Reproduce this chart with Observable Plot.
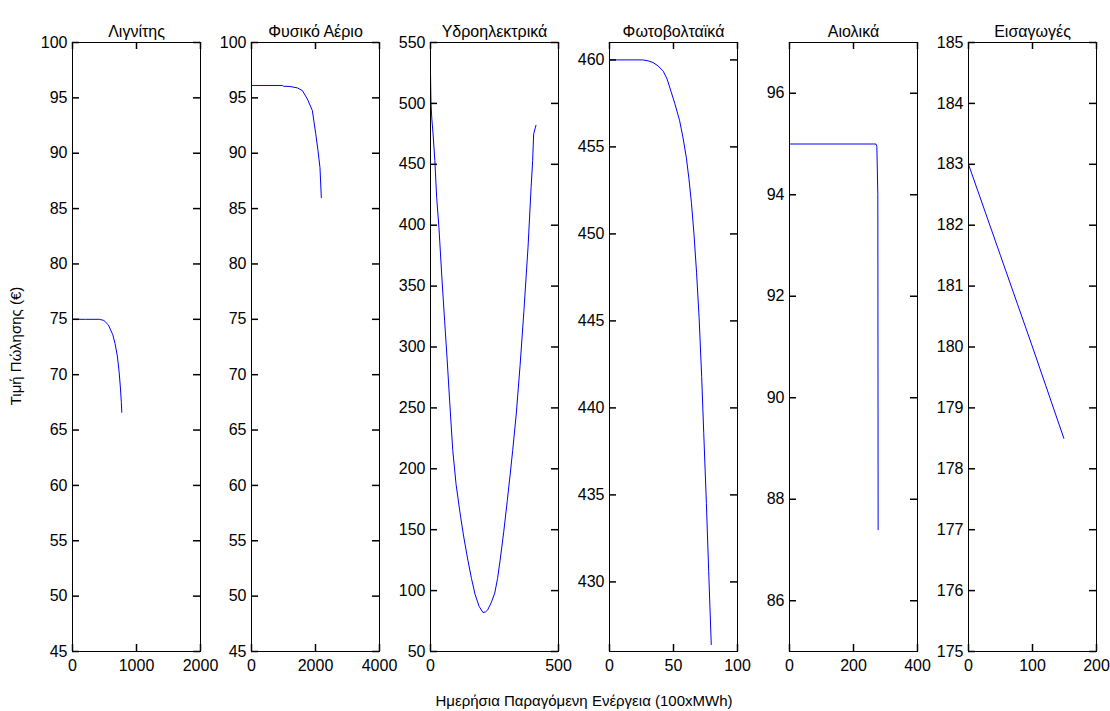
<!DOCTYPE html>
<html><head><meta charset="utf-8">
<script src="https://cdn.jsdelivr.net/npm/d3@7"></script>
<script src="https://cdn.jsdelivr.net/npm/@observablehq/plot@0.6"></script>
<style>
body{margin:0;background:#fff;}
#fig{position:relative;width:1110px;height:711px;font-family:"Liberation Sans",Arial,sans-serif;color:#000;background:#fff;overflow:hidden;}
.panel{position:absolute;top:0;}
#ylab{position:absolute;left:15px;top:346px;transform:translate(-50%,-50%) rotate(-90deg);white-space:nowrap;font-size:15px;}
#xlab{position:absolute;left:584px;top:700px;transform:translate(-50%,-50%);white-space:nowrap;font-size:15px;}
</style></head>
<body><div id="fig"><div id="ylab">Τιμή Πώλησης (€)</div><div id="xlab">Ημερήσια Παραγόμενη Ενέργεια (100xMWh)</div></div>
<script>
const titles = ["Λιγνίτης", "Φυσικό Αέριο", "Υδροηλεκτρικά", "Φωτοβολταϊκά", "Αιολικά", "Εισαγωγές"];

const lignX = [0, 200, 420, 490, 560, 630, 665, 700, 728, 749, 763, 770];
const lignY = [75, 75, 75, 74.9, 74.5, 73.6, 72.8, 71.7, 70.3, 68.8, 67.5, 66.6];

const gasX = [0, 966, 1000, 1200, 1434, 1590, 1745, 1901, 2005, 2078, 2140, 2182];
const gasY = [96.12, 96.12, 96.05, 96.03, 95.9, 95.66, 94.9, 93.86, 91.8, 90.24, 88.7, 86.0];

const hydroX = [0, 2, 5, 10, 17, 24, 33, 45, 55, 65, 75, 87, 100, 118, 130, 146, 160, 174, 190, 205, 215, 223, 237, 251, 262, 272, 286, 300, 311, 321, 335, 350, 365, 381, 393, 399, 403, 412];
const hydroY = [525, 500, 488, 475, 453, 423, 398, 355, 322, 290, 255, 215, 187, 160, 144, 125, 110, 97, 87, 82, 82.5, 84, 90, 98, 110, 125, 148, 174, 195, 215, 245, 285, 330, 382, 431, 453, 475, 482];

const pvX = [0, 20, 26, 30, 34, 38, 42, 45, 48, 51, 54.8, 57.5, 60, 62, 64, 66, 68, 70, 72, 73.6, 75.7, 77.5, 79.5];
const pvY = [460, 460, 460, 459.95, 459.85, 459.65, 459.35, 458.9, 458.2, 457.5, 456.5, 455.5, 454.4, 453.2, 451.8, 450.0, 447.8, 445.2, 441.8, 438.6, 434.5, 430.6, 426.4];

const windX = [0, 270, 273, 276, 277];
const windY = [95, 95, 94.95, 94.0, 87.4];

const impX = [0, 50, 100, 149];
const impY = [183, 181.5, 180, 178.5];

const xDomains = [[0, 2000], [0, 4000], [0, 500], [0, 100], [0, 400], [0, 200]];
const xTickVals = [[0, 1000, 2000], [0, 2000, 4000], [0, 500], [0, 50, 100], [0, 200, 400], [0, 100, 200]];
const yDomains = [[45, 100], [45, 100], [50, 550], [426, 461], [85, 97], [175, 185]];
const yTickVals = [
  [45, 50, 55, 60, 65, 70, 75, 80, 85, 90, 95, 100],
  [45, 50, 55, 60, 65, 70, 75, 80, 85, 90, 95, 100],
  [50, 100, 150, 200, 250, 300, 350, 400, 450, 500, 550],
  [430, 435, 440, 445, 450, 455, 460],
  [86, 88, 90, 92, 94, 96],
  [175, 176, 177, 178, 179, 180, 181, 182, 183, 184, 185]
];
const seriesX = [lignX, gasX, hydroX, pvX, windX, impX];
const seriesY = [lignY, gasY, hydroY, pvY, windY, impY];

const lefts = [72, 251, 430, 609, 789, 968];
const PW = 128, PH = 609, MT = 42, MB = 60, ML = 50, MR = 20, TK = 7, FS = 16;
const fig = document.getElementById("fig");
const fmt = d => String(d);

titles.forEach((title, i) => {
  const rows = seriesX[i].map((x, j) => ({x, y: seriesY[i][j]}));
  const chart = Plot.plot({
    width: ML + PW + MR,
    height: MT + PH + MB,
    marginLeft: ML, marginRight: MR, marginTop: MT, marginBottom: MB,
    style: {fontFamily: '"Liberation Sans", Arial, sans-serif', fontSize: FS + "px", color: "#000", background: "transparent", overflow: "visible"},
    x: {domain: xDomains[i], label: null},
    y: {domain: yDomains[i], label: null},
    marks: [
      Plot.line(rows, {x: "x", y: "y", stroke: "#0000ff", strokeWidth: 1}),
      Plot.frame({stroke: "#000", strokeWidth: 1}),
      Plot.tickY(yTickVals[i], {y: d => d, insetRight: PW - TK, stroke: "#000", strokeWidth: 1.5}),
      Plot.tickY(yTickVals[i], {y: d => d, insetLeft: PW - TK, stroke: "#000", strokeWidth: 1.5}),
      Plot.tickX(xTickVals[i], {x: d => d, insetTop: PH - TK, stroke: "#000", strokeWidth: 1.5}),
      Plot.tickX(xTickVals[i], {x: d => d, insetBottom: PH - TK, stroke: "#000", strokeWidth: 1.5}),
      Plot.axisY(yTickVals[i], {anchor: "left", tickSize: 0, tickPadding: 5, tickFormat: fmt, fontSize: FS, label: null}),
      Plot.axisX(xTickVals[i], {anchor: "bottom", tickSize: 0, tickPadding: 8, tickFormat: fmt, fontSize: FS, label: null}),
      Plot.text([title], {frameAnchor: "top", dy: -17, fontSize: FS, fill: "#000"})
    ]
  });
  chart.classList.add("panel");
  chart.style.left = (lefts[i] - ML) + "px";
  fig.appendChild(chart);
});
</script>
</body></html>
